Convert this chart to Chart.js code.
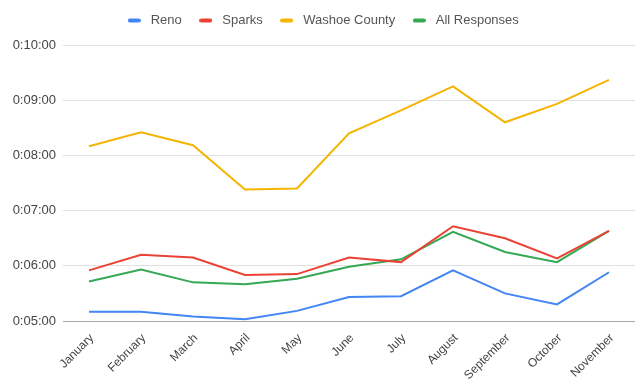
<!DOCTYPE html>
<html>
<head>
<meta charset="utf-8">
<script src="https://cdn.jsdelivr.net/npm/chart.js@4.4.1/dist/chart.umd.min.js"></script>
<style>
    body { margin: 0; background: #fff; }
    #wrap { width: 635px; height: 379px; position: relative; }
</style>
</head>
<body>
<div id="wrap"><canvas id="responseChart"></canvas></div>
<script>
// response times, in seconds
const months = ['January', 'February', 'March', 'April', 'May', 'June', 'July', 'August', 'September', 'October', 'November'];
const reno = [310, 310, 305, 302, 311, 326, 327, 355, 330, 318, 353];
const sparks = [355, 372, 369, 350, 351, 369, 364, 403, 390, 368, 398];
const washoe = [490, 505, 491, 443, 444, 504, 529, 555, 516, 536, 562];
const allResponses = [343, 356, 342, 340, 346, 359, 367, 397, 375, 364, 398];

const colors = { reno: '#4285f4', sparks: '#ea4335', washoe: '#f4b400', all: '#34a853' };

function fmtTime(sec) {
    const m = Math.floor(sec / 60);
    const s = sec % 60;
    return '0:' + String(m).padStart(2, '0') + ':' + String(s).padStart(2, '0');
}

// small rounded bar used as the legend marker
function legendMarker(color) {
    const c = document.createElement('canvas');
    c.width = 13; c.height = 5;
    const g = c.getContext('2d');
    g.strokeStyle = color;
    g.lineWidth = 4;
    g.lineCap = 'round';
    g.beginPath();
    g.moveTo(2, 2.5);
    g.lineTo(11, 2.5);
    g.stroke();
    return c;
}

function line(label, data, color) {
    return {
        label: label,
        data: data,
        borderColor: color,
        backgroundColor: color,
        borderWidth: 2,
        pointRadius: 0,
        tension: 0,
        pointStyle: legendMarker(color)
    };
}

// nudge the legend up and right without moving the plot area
const legendShift = {
    id: 'legendShift',
    afterLayout(chart) {
        const lg = chart.legend;
        lg.top -= 8; lg.bottom -= 8;
        lg.left += 4; lg.right += 4;
    }
};

Chart.defaults.font.family = 'Arial, "Liberation Sans", sans-serif';
Chart.defaults.color = '#444';

new Chart(document.getElementById('responseChart'), {
    type: 'line',
    data: {
        labels: months,
        datasets: [
            line('Reno', reno, colors.reno),
            line('Sparks', sparks, colors.sparks),
            line('Washoe County', washoe, colors.washoe),
            line('All Responses', allResponses, colors.all)
        ]
    },
    plugins: [legendShift],
    options: {
        responsive: true,
        maintainAspectRatio: false,
        animation: false,
        layout: { padding: { top: 8, right: 0, bottom: 0, left: 0 } },
        plugins: {
            legend: {
                position: 'top',
                labels: {
                    usePointStyle: true,
                    pointStyleWidth: 20,
                    boxHeight: 5,
                    padding: 14,
                    color: '#555',
                    font: { size: 13 }
                }
            },
            tooltip: { enabled: false }
        },
        scales: {
            x: {
                offset: true,
                grid: { display: false },
                border: { display: false },
                ticks: { maxRotation: 45, minRotation: 45, font: { size: 12 }, padding: 2, labelOffset: 3 },
                afterFit: scale => { scale.height = 58; }
            },
            y: {
                min: 300,
                max: 600,
                border: { display: false },
                grid: {
                    color: ctx => ctx.tick && ctx.tick.value === 300 ? '#a8a8a8' : '#e0e0e0',
                    drawTicks: false
                },
                ticks: { stepSize: 60, padding: 7, font: { size: 13 }, callback: v => fmtTime(v) },
                afterFit: scale => { scale.width = 63; }
            }
        }
    }
});
</script>
</body>
</html>
